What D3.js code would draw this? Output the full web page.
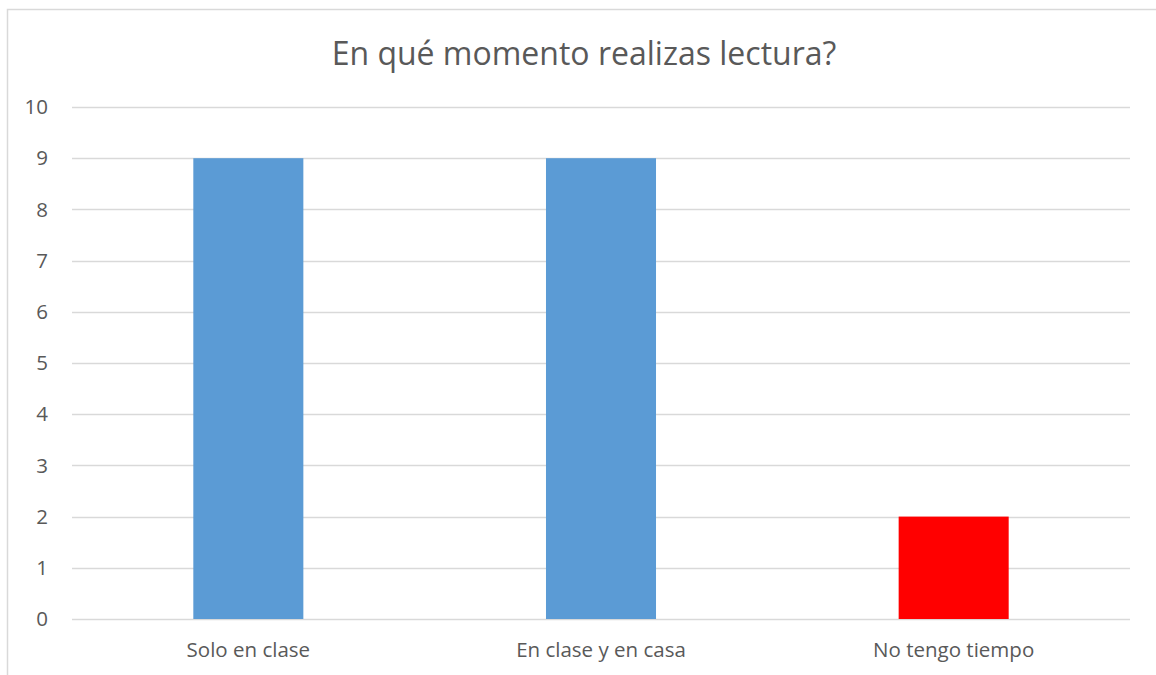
<!DOCTYPE html>
<html><head><meta charset="utf-8">
<script src="https://cdn.jsdelivr.net/npm/d3@7"></script>
<style>body{margin:0;background:#fff;} svg{display:block;font-family:"Open Sans", sans-serif;}</style>
</head><body>
<script>
const categories = ["Solo en clase", "En clase y en casa", "No tengo tiempo"];
const values = [9, 9, 2];
const barColors = ["#5B9BD5", "#5B9BD5", "#FF0000"];
const yTicks = [0,1,2,3,4,5,6,7,8,9,10];
const title = "En qué momento realizas lectura?";

(function(){
const W = 1156, H = 675;
const svg = d3.select("body").append("svg").attr("width", W).attr("height", H);
svg.append("rect").attr("x", 7.5).attr("y", 9.5).attr("width", 1160).attr("height", 680)
  .attr("fill", "#fff").attr("stroke", "#d9d9d9").attr("stroke-width", 1.5);

const pl = 72, pr = 1130, pt = 107, pb = 619;
const x = d3.scaleBand().domain(categories).range([pl, pr]).padding(0);
const y = d3.scaleLinear().domain([0, 10]).range([pb, pt]);

svg.append("g").selectAll("line").data(yTicks).join("line")
  .attr("x1", pl).attr("x2", pr)
  .attr("y1", d => Math.round(y(d)) + 0.5).attr("y2", d => Math.round(y(d)) + 0.5)
  .attr("stroke", "#d9d9d9").attr("stroke-width", 1.5);

svg.append("g").selectAll("text").data(yTicks).join("text")
  .attr("x", 48).attr("y", d => y(d)).attr("dy", "0.35em")
  .attr("text-anchor", "end").attr("fill", "#595959").attr("font-size", 20.5)
  .text(d => d);

const bw = x.bandwidth() * 0.312;
svg.append("g").selectAll("rect").data(values).join("rect")
  .attr("x", (d, i) => x(categories[i]) + x.bandwidth() / 2 - bw / 2)
  .attr("width", bw)
  .attr("y", d => y(d)).attr("height", d => y(0) - y(d))
  .attr("fill", (d, i) => barColors[i]);

svg.append("g").selectAll("text").data(categories).join("text")
  .attr("x", d => x(d) + x.bandwidth() / 2).attr("y", 650).attr("dy", "0.35em")
  .attr("text-anchor", "middle").attr("fill", "#595959").attr("font-size", 20.5)
  .text(d => d);

svg.append("text").attr("x", 584).attr("y", 54).attr("dy", "0.35em")
  .attr("text-anchor", "middle").attr("fill", "#595959").attr("font-size", 32)
  .text(title);
})();
</script>
</body></html>
